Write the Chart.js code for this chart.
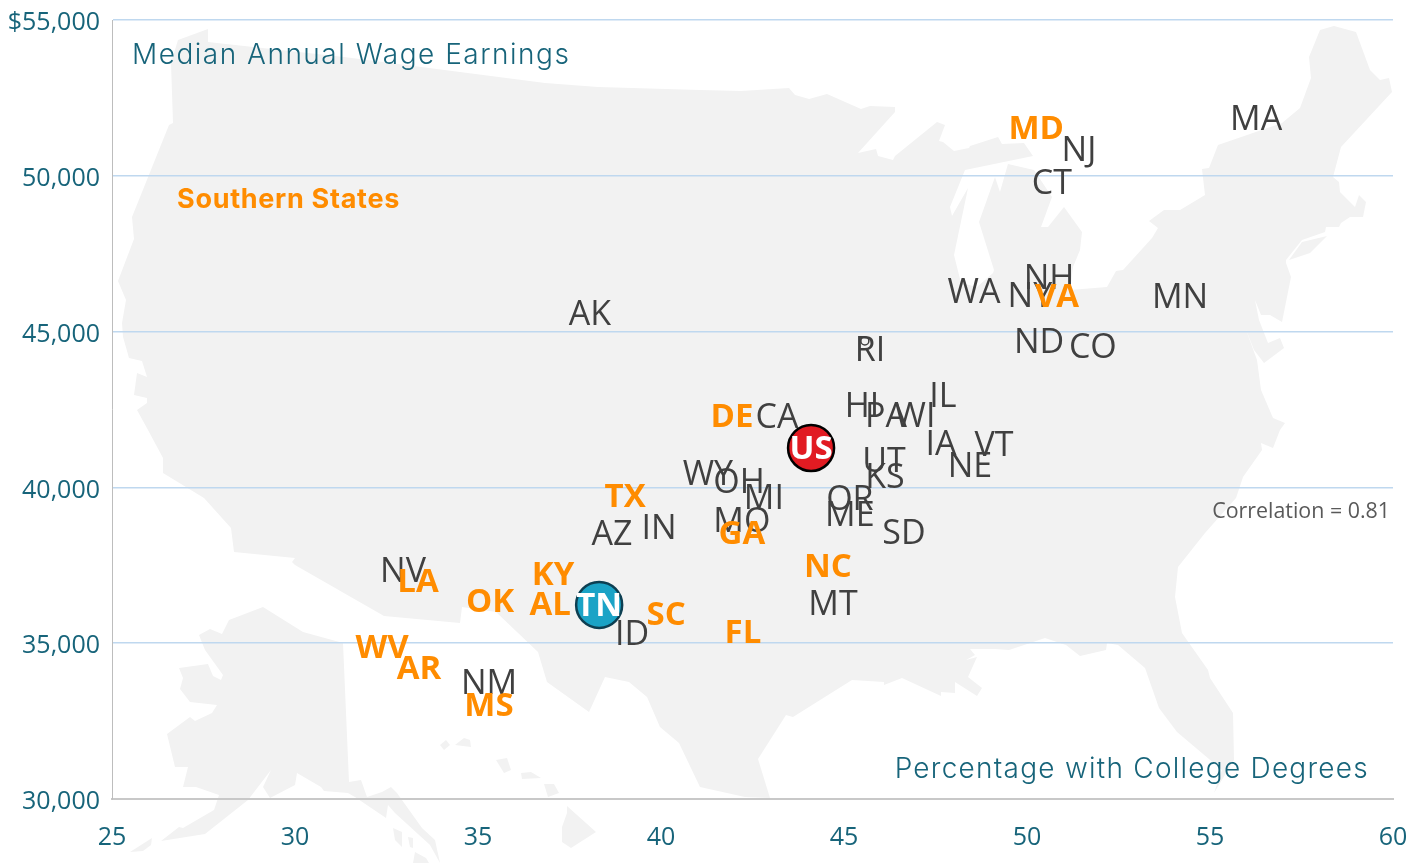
<!DOCTYPE html>
<html><head><meta charset="utf-8">
<style>html,body{margin:0;padding:0;background:#fff}canvas{display:block}</style>
<script src="https://cdn.jsdelivr.net/npm/chart.js@4"></script>
</head><body>
<div style="width:1413px;height:865px"><canvas id="c" width="1413" height="865"></canvas></div>
<script>
// ---- data (x = % with college degrees, y = median annual wage earnings) ----
const otherStates = ['MA','NJ','CT','NH','NY','WA','MN','ND','CO','RI','IL','HI','PA','WI','CA','IA','VT','NE','UT','KS','OH','WY','MI','OR','ME','MO','SD','AK','AZ','IN','NV','MT','ID','NM'];
const otherPct    = [56.26,51.42,50.68,50.60,50.08,48.55,54.18,50.33,51.80,45.71,47.70,45.49,46.15,46.94,43.17,47.65,49.10,48.44,46.09,46.12,42.13,41.28,42.81,45.16,45.16,42.21,46.64,38.06,38.66,39.95,32.95,44.70,39.21,35.30];
const otherWage   = [51855,50860,49800,46753,46175,46300,46143,44700,44540,44440,42966,42645,42325,42325,42293,41425,41394,40720,40880,40367,40206,40463,39693,39660,39147,38955,38570,45598,38538,38730,37350,36290,35330,33756];
const southStates = ['MD','VA','DE','TX','GA','KY','LA','OK','AL','SC','NC','FL','WV','AR','MS'];
const southPct    = [50.25,50.82,41.94,39.02,42.21,37.05,33.36,35.33,36.97,40.14,44.56,42.24,32.38,33.39,35.30];
const southWage   = [51534,46143,42293,39725,38538,37222,37000,36355,36260,35940,37478,35360,34880,34206,33018];
const dcPct = [45.57], dcWage = [44700];
const usPct = [44.10], usWage = [41265];
const tnPct = [38.31], tnWage = [36228];
const xTickStep = 5, yTickStep = 5000;

// ---- decorative background map outline (page pixels) ----
const mapShapes = [
 [[208,29],[208,42],[344,57],[545,83],[598,87],[700,90],[741,91],[789,88],[795,95],[809,99],[827,94],[861,109],[870,106],[895,107],[895,112],[858,153],[876,149],[878,156],[893,160],[895,156],[937,122],[945,125],[939,141],[943,142],[954,151],[969,148],[970,146],[998,137],[1002,144],[1024,143],[1033,156],[965,170],[950,207],[952,216],[968,188],[954,255],[961,283],[977,287],[993,273],[994,270],[979,222],[995,177],[1000,192],[1008,164],[1034,170],[1052,197],[1041,227],[1048,227],[1064,207],[1082,232],[1080,250],[1073,267],[1070,290],[1107,287],[1116,271],[1123,270],[1152,238],[1158,228],[1149,221],[1164,210],[1180,210],[1205,195],[1202,169],[1209,168],[1218,145],[1282,123],[1300,108],[1311,78],[1309,57],[1320,30],[1334,26],[1356,32],[1370,70],[1380,80],[1389,78],[1392,92],[1341,147],[1333,177],[1339,182],[1340,192],[1355,207],[1359,195],[1366,202],[1363,217],[1350,217],[1341,223],[1339,227],[1326,227],[1325,232],[1302,240],[1286,260],[1286,263],[1291,277],[1282,322],[1270,315],[1261,315],[1255,300],[1259,320],[1268,343],[1280,338],[1284,348],[1264,363],[1254,350],[1245,327],[1257,360],[1261,390],[1273,418],[1285,423],[1280,430],[1273,448],[1261,443],[1262,450],[1243,477],[1236,498],[1205,533],[1178,567],[1175,597],[1182,633],[1208,670],[1210,678],[1233,713],[1234,760],[1214,793],[1222,770],[1177,732],[1159,708],[1145,668],[1118,645],[1107,643],[1106,650],[1080,656],[1066,645],[1045,638],[1009,650],[995,649],[970,649],[975,655],[966,660],[977,657],[968,677],[982,688],[977,696],[955,682],[955,693],[941,692],[941,696],[902,678],[884,685],[884,682],[852,680],[793,717],[786,715],[758,759],[770,798],[745,797],[700,787],[679,743],[660,727],[647,697],[629,682],[605,677],[589,712],[547,682],[538,652],[496,612],[462,607],[460,623],[384,616],[295,565],[292,562],[295,558],[234,552],[231,528],[204,498],[163,473],[163,458],[148,430],[137,410],[147,403],[147,398],[134,395],[137,373],[147,377],[142,361],[129,358],[123,337],[122,323],[126,300],[118,281],[134,239],[132,217],[169,125],[173,123],[171,63],[178,40]],
 [[1327,236],[1302,242],[1289,260],[1310,253]],
 [[263,607],[303,632],[343,643],[349,782],[361,780],[367,797],[382,792],[391,787],[397,793],[422,828],[435,840],[440,863],[430,845],[395,813],[388,805],[386,818],[355,797],[348,793],[324,791],[321,787],[297,773],[295,785],[270,798],[263,787],[271,770],[248,800],[205,834],[161,841],[179,827],[183,828],[214,810],[219,795],[196,787],[183,787],[188,767],[175,767],[167,734],[190,717],[195,721],[212,713],[217,705],[190,702],[180,689],[183,678],[179,668],[208,664],[213,676],[221,680],[223,675],[205,650],[199,635],[210,629],[222,634],[229,620]],
 [[393,828],[402,832],[402,847],[395,840]],
 [[408,837],[413,838],[413,848],[410,847]],
 [[415,852],[426,858],[429,863],[413,863]],
 [[152,838],[151,845],[143,851],[130,852]],
 [[440,745],[446,740],[450,745],[444,750]],
 [[455,745],[464,738],[470,740],[471,747]],
 [[496,760],[507,758],[511,770],[504,773]],
 [[521,773],[531,772],[541,778],[522,779]],
 [[544,784],[554,784],[559,793],[548,797]],
 [[567,806],[596,832],[571,848],[562,842],[562,827],[567,813]]
];

const toPoints = (xs, ys) => xs.map((x, i) => ({x, y: ys[i]}));
const TEAL = '#17647a', DARK = '#404040', ORANGE = '#ff8c00';
const SANS = '"Open Sans"';
const noAutoPad = s => { s.paddingLeft = s.paddingRight = s.paddingTop = s.paddingBottom = 0; };

const mapPlugin = {
  id: 'usMap',
  beforeDraw(chart) {
    const c = chart.ctx;
    c.save();
    c.fillStyle = '#f2f2f2';
    for (const s of mapShapes) {
      c.beginPath();
      s.forEach(([x, y], i) => i ? c.lineTo(x, y) : c.moveTo(x, y));
      c.closePath();
      c.fill();
    }
    c.restore();
  }
};

const labelPlugin = {
  id: 'stateLabels',
  afterDatasetsDraw(chart) {
    const c = chart.ctx;
    c.save();
    c.textAlign = 'center';
    c.textBaseline = 'middle';
    chart.data.datasets.forEach((ds, di) => {
      if (!ds.stateNames) return;
      const meta = chart.getDatasetMeta(di);
      c.font = ds.labelFont;
      c.fillStyle = ds.labelColor;
      meta.data.forEach((pt, i) => c.fillText(ds.stateNames[i], pt.x, pt.y + 2));
    });
    // annotations
    c.textBaseline = 'middle';
    c.textAlign = 'left';
    c.font = '300 28px Inter';
    c.letterSpacing = '1.5px';
    c.fillStyle = TEAL;
    c.fillText('Median Annual Wage Earnings', 132, 56);
    c.textAlign = 'right';
    c.letterSpacing = '1.25px';
    c.fillText('Percentage with College Degrees', 1369, 770);
    c.textAlign = 'left';
    c.font = '700 27px Inter';
    c.letterSpacing = '0.7px';
    c.fillStyle = ORANGE;
    c.fillText('Southern States', 177, 200);
    c.letterSpacing = '0px';
    c.textAlign = 'right';
    c.font = '21.4px ' + SANS;
    c.fillStyle = '#595959';
    c.fillText('Correlation = 0.81', 1390, 512);
    c.restore();
  }
};

new Chart(document.getElementById('c'), {
  type: 'scatter',
  plugins: [mapPlugin, labelPlugin],
  data: {
    datasets: [
      {label: 'DC marker', data: toPoints(dcPct, dcWage), pointRadius: 4, pointBackgroundColor: 'rgba(0,0,0,0)', pointBorderColor: DARK, pointBorderWidth: 1.5},
      {label: 'Other states', data: toPoints(otherPct, otherWage), pointRadius: 0, stateNames: otherStates, labelFont: '34px ' + SANS, labelColor: DARK},
      {label: 'Southern states', data: toPoints(southPct, southWage), pointRadius: 0, stateNames: southStates, labelFont: '700 33px ' + SANS, labelColor: ORANGE},
      {label: 'US', data: toPoints(usPct, usWage), pointRadius: 23, pointBackgroundColor: '#e11b22', pointBorderColor: '#000', pointBorderWidth: 2.5, stateNames: ['US'], labelFont: '700 33px ' + SANS, labelColor: '#fff'},
      {label: 'TN', data: toPoints(tnPct, tnWage), pointRadius: 23, pointBackgroundColor: '#1ba3c6', pointBorderColor: '#0d3f52', pointBorderWidth: 2.5, stateNames: ['TN'], labelFont: '700 33px ' + SANS, labelColor: '#fff'}
    ]
  },
  options: {
    responsive: false,
    animation: false,
    events: [],
    layout: {autoPadding: false, padding: {left: 0, top: 20, right: 20, bottom: 0}},
    plugins: {legend: {display: false}, title: {display: false}, tooltip: {enabled: false}},
    scales: {
      x: {
        type: 'linear', min: 25, max: 60,
        afterFit(s) { s.height = 66; noAutoPad(s); },
        ticks: {stepSize: xTickStep, color: TEAL, font: {family: SANS, size: 25}, padding: 24, maxRotation: 0},
        grid: {display: false, drawTicks: false},
        border: {color: '#c8c8c8', width: 2}
      },
      y: {
        type: 'linear', min: 30000, max: 55000,
        afterFit(s) { s.width = 112; noAutoPad(s); },
        ticks: {
          stepSize: yTickStep, color: TEAL, font: {family: SANS, size: 25}, padding: 12, labelOffset: 3,
          callback: v => (v === 55000 ? '$' : '') + v.toLocaleString('en-US')
        },
        grid: {color: '#bfd8ef', lineWidth: 1.5, drawTicks: false},
        border: {color: '#bdbdbd', width: 1}
      }
    }
  }
});
</script>
</body></html>
